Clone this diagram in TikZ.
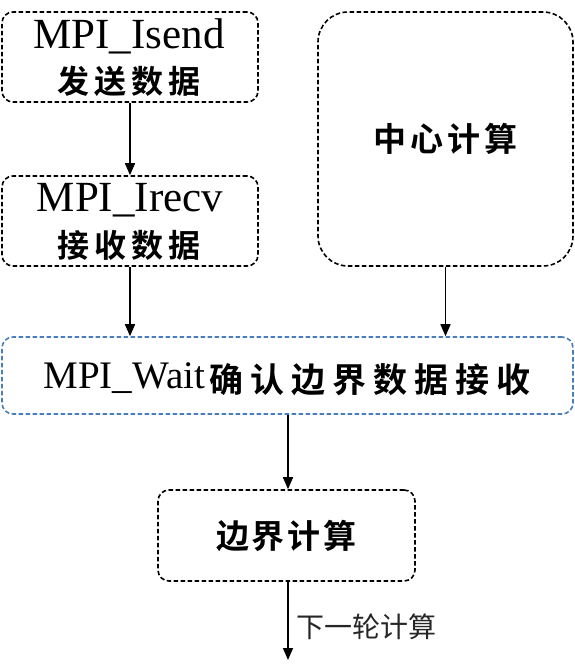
\documentclass[tikz,border=0pt]{standalone}
\usepackage{fontspec}
\setmainfont{Liberation Serif}
\newfontfamily\cjk{Noto Sans CJK SC}[BoldFont=* Bold]
\usetikzlibrary{arrows.meta}
\definecolor{waitblue}{HTML}{4A7EBB}
\newcommand{\cs}[1]{\hspace{#1}}
\tikzset{
  box/.style={draw, dashed, dash pattern=on 4.5pt off 2.5pt, line width=1.6pt, rounded corners=11pt, align=center, inner sep=0pt},
  flow/.style={line width=1.6pt, -{Triangle[length=12pt,width=10pt]}},
  lat/.style={font=\fontsize{43}{46}\selectfont},
}
\begin{document}
\begin{tikzpicture}[x=1pt,y=-1pt]
\useasboundingbox (0,0) rectangle (575,672);
\node[box, minimum width=256pt, minimum height=90pt] (isend) at (130,57) {};
\node[lat] (isendt) at (129,36) {MPI\_Isend};
\node (isendc) at (129,81) {\cjk\bfseries\fontsize{32}{34}\selectfont 发\cs{5pt}送\cs{5pt}数\cs{5pt}据};
\node[box, minimum width=256pt, minimum height=90pt] (irecv) at (130,221) {};
\node[lat] (irecvt) at (130,200) {MPI\_Irecv};
\node (irecvc) at (129,245) {\cjk\bfseries\fontsize{32}{34}\selectfont 接\cs{5pt}收\cs{5pt}数\cs{5pt}据};
\node[box, minimum width=255pt, minimum height=254pt, rounded corners=30pt] (center) at (445.5,139) {\cjk\bfseries\fontsize{33}{35}\selectfont 中\cs{4pt}心\cs{4pt}计\cs{4pt}算};
\node[box, draw=waitblue, minimum width=571pt, minimum height=77pt] (wait) at (287.5,375.5) {};
\node[font=\fontsize{39}{42}\selectfont, anchor=west] (waitt) at (40,378) {MPI\_Wait};
\node[anchor=west] (waitc) at (206,380) {\cjk\bfseries\fontsize{34}{36}\selectfont 确\cs{7pt}认\cs{7pt}边\cs{7pt}界\cs{7pt}数\cs{7pt}据\cs{7pt}接\cs{7pt}收};
\node[box, minimum width=257pt, minimum height=91pt] (bound) at (286.5,535.5) {\cjk\bfseries\fontsize{33}{35}\selectfont 边\cs{3pt}界\cs{3pt}计\cs{3pt}算};
\coordinate (next) at (288,660);
\draw[flow] (isend.south) -- (irecv.north);
\draw[flow] (irecv.south) -- (irecv.south |- wait.north);
\draw[flow] (center.south) -- (center.south |- wait.north);
\draw[flow] (wait.south -| next) -- (bound.north -| next);
\draw[flow] (bound.south -| next) -- (next) node[pos=0.58, right=4pt, font=\cjk\fontsize{28}{30}\selectfont, text=black!85] (lbl) {下一轮计算};
\end{tikzpicture}
\end{document}
